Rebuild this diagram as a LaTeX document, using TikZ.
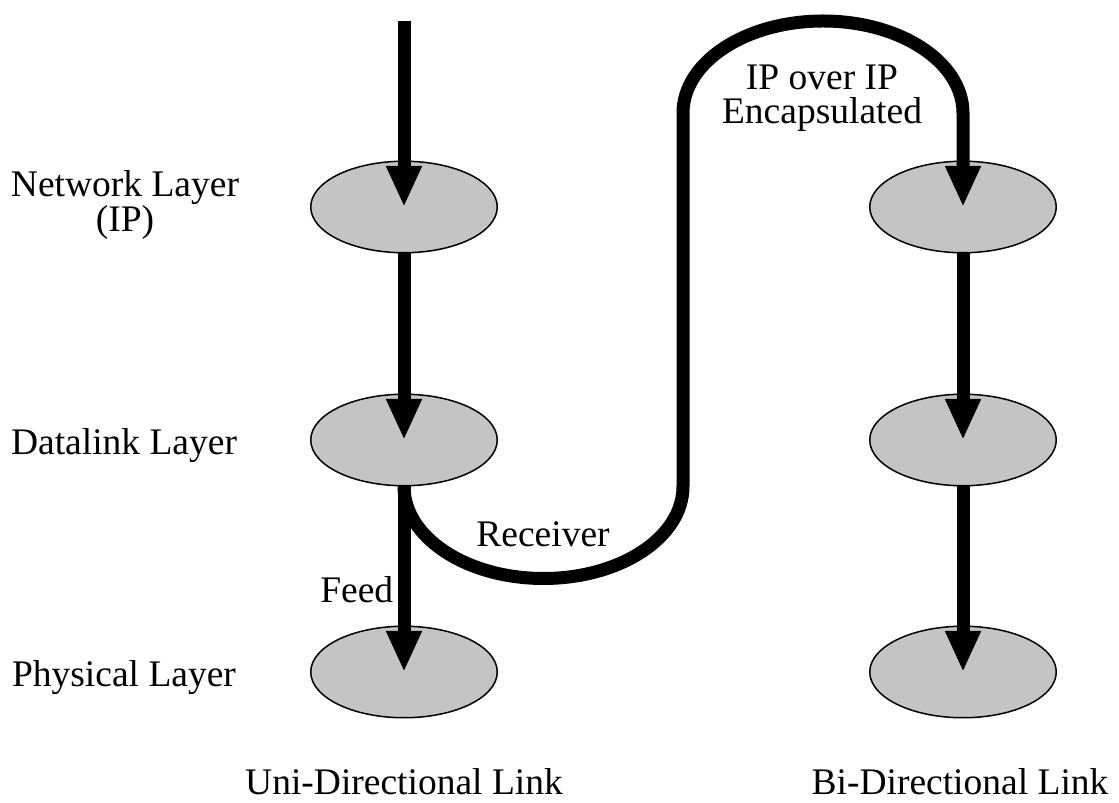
\documentclass[tikz,border=0pt]{standalone}
\usepackage{fontspec}
\setmainfont{Liberation Serif}
\usepackage{tikz}
\usetikzlibrary{positioning,calc,shapes.geometric,arrows.meta}
\usepackage{xcolor}
\definecolor{layergray}{RGB}{196,196,196}

\begin{document}
\begin{tikzpicture}[
    x=1pt, y=1pt,
    every node/.style={font=\fontsize{37.5}{34}\selectfont},
    layer/.style={
        ellipse,
        draw,
        line width=1.5pt,
        fill=layergray,
        minimum width=186.5pt,
        minimum height=91.5pt,
        inner sep=0pt
    },
    flow/.style={line width=13pt},
    arrow/.style={flow, -{Triangle[length=41pt 0 0, width=33pt 0 0]}},
    lbl/.style={anchor=base, inner sep=0pt, align=center}
]
\useasboundingbox (0,0) rectangle (1119,803);

% left column (uni-directional)
\node[layer] (net1) at (404,596) {};
\node[layer] (dlink1) at (404,363) {};
\node[layer] (phys1) at (404,131) {};

% right column (bi-directional)
\node[layer] (net2) at (963,596) {};
\node[layer] (dlink2) at (963,363) {};
\node[layer] (phys2) at (963,131) {};

\coordinate (src) at (404,782);

% arrows left column
\draw[arrow] (src) -- (net1.center);
\draw[arrow] (net1.south) -- (dlink1.center);
\draw[arrow] (dlink1.south) -- (phys1.center);

% receiver loop : down, up and over into the tunnel
\draw[arrow] (dlink1.south)
    arc[start angle=180, end angle=360, x radius=139.5, y radius=92]
    -- ++(0,373.5)
    arc[start angle=180, end angle=0, x radius=140, y radius=92]
    -- (net2.center);

% arrows right column
\draw[arrow] (net2.south) -- (dlink2.center);
\draw[arrow] (dlink2.south) -- (phys2.center);

% layer names (base = last line)
\node[lbl] (netlbl) at (125,571.3) {Network Layer\\(IP)};
\node[lbl] (dlinklbl) at (124,348) {Datalink Layer};
\node[lbl] (physlbl) at (124,116.3) {Physical Layer};

% path labels
\node[lbl] (feed) at (356.7,200.3) {Feed};
\node[lbl] (recv) at (543,256.3) {Receiver};
\node[lbl] (tunnel) at (822,679.7) {IP over IP\\Encapsulated};

% column titles
\node[lbl] (uni) at (404,8) {Uni-Directional Link};
\node[lbl] (bi) at (960,8) {Bi-Directional Link};
\end{tikzpicture}
\end{document}
